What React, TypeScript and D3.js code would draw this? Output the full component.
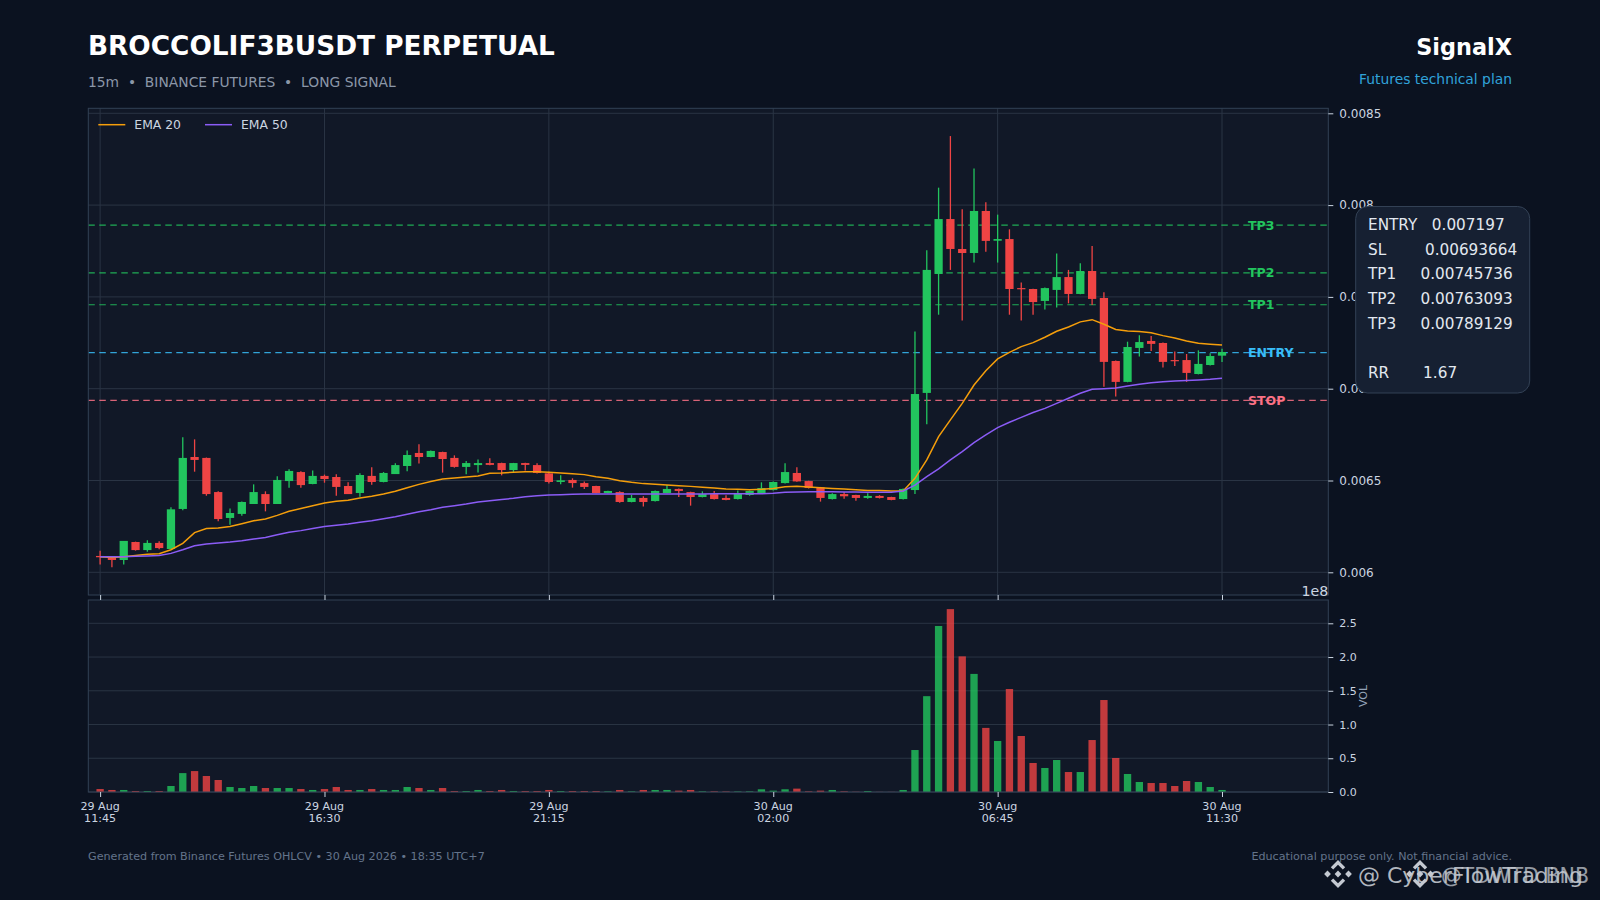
import React, { useEffect, useRef } from "react";
import * as d3 from "d3";

// prices are read in units of 1e-6
const opens = [
  6089, 6083, 6067, 6165, 6121, 6160, 6127, 6345, 6628, 6623, 6437, 6296, 6318, 6372, 6426, 6372,
  6497, 6546, 6481, 6525, 6519, 6470, 6432, 6525, 6492, 6535, 6579, 6650, 6628, 6655, 6623, 6574,
  6584, 6595, 6595, 6557, 6595, 6584, 6539, 6492, 6503, 6486, 6470, 6432, 6437, 6383, 6405, 6388,
  6432, 6454, 6437, 6410, 6426, 6405, 6399, 6421, 6432, 6448, 6486, 6541, 6497, 6463, 6399, 6426,
  6421, 6405, 6416, 6410, 6399, 6448, 6977, 7625, 7924, 7761, 7739, 7968, 7806, 7815, 7548, 7543,
  7478, 7538, 7608, 7516, 7641, 7494, 7151, 7037, 7222, 7260, 7249, 7156, 7156, 7080, 7129, 7180,
];
const highs = [
  6118, 6085, 6171, 6167, 6174, 6169, 6354, 6735, 6724, 6625, 6441, 6348, 6386, 6479, 6441, 6523,
  6561, 6550, 6555, 6532, 6534, 6490, 6539, 6572, 6546, 6594, 6664, 6697, 6663, 6657, 6637, 6606,
  6615, 6621, 6597, 6596, 6597, 6594, 6548, 6528, 6512, 6495, 6471, 6444, 6441, 6421, 6414, 6445,
  6476, 6456, 6439, 6441, 6443, 6419, 6445, 6445, 6490, 6494, 6594, 6572, 6499, 6465, 6430, 6437,
  6423, 6430, 6420, 6412, 6456, 7312, 7754, 8095, 8376, 7977, 8200, 8015, 7948, 7868, 7579, 7545,
  7551, 7736, 7647, 7683, 7777, 7525, 7153, 7256, 7291, 7287, 7251, 7202, 7189, 7209, 7193, 7218,
];
const lows = [
  6043, 6027, 6043, 6118, 6112, 6125, 6127, 6338, 6548, 6417, 6278, 6259, 6308, 6372, 6332, 6372,
  6461, 6461, 6479, 6488, 6417, 6426, 6412, 6477, 6490, 6535, 6550, 6592, 6626, 6543, 6570, 6534,
  6543, 6583, 6528, 6546, 6554, 6538, 6483, 6479, 6461, 6454, 6431, 6431, 6379, 6381, 6358, 6386,
  6431, 6410, 6363, 6408, 6397, 6392, 6397, 6417, 6430, 6446, 6484, 6493, 6457, 6385, 6397, 6401,
  6390, 6401, 6402, 6392, 6397, 6426, 6806, 7403, 7647, 7371, 7687, 7746, 7687, 7403, 7371, 7403,
  7431, 7442, 7465, 7514, 7456, 7011, 6957, 7035, 7176, 7205, 7115, 7124, 7037, 7078, 7127, 7146,
];
const closes = [
  6082, 6067, 6171, 6121, 6160, 6132, 6343, 6623, 6612, 6426, 6290, 6323, 6383, 6437, 6372, 6503,
  6552, 6475, 6525, 6508, 6465, 6426, 6530, 6492, 6541, 6584, 6639, 6628, 6661, 6617, 6574, 6595,
  6595, 6585, 6557, 6595, 6585, 6541, 6492, 6501, 6486, 6465, 6432, 6443, 6383, 6405, 6383, 6443,
  6454, 6443, 6410, 6426, 6399, 6394, 6432, 6443, 6459, 6492, 6546, 6495, 6459, 6405, 6426, 6414,
  6405, 6416, 6405, 6394, 6454, 6971, 7647, 7924, 7761, 7739, 7968, 7805, 7815, 7543, 7543, 7472,
  7548, 7608, 7516, 7641, 7489, 7146, 7037, 7227, 7254, 7244, 7146, 7151, 7086, 7135, 7178, 7200,
];
const ema20 = [
  6085, 6081, 6085, 6091, 6098, 6101, 6123, 6158, 6216, 6238, 6241, 6250, 6265, 6281, 6290, 6310,
  6332, 6347, 6363, 6377, 6387, 6392, 6405, 6414, 6426, 6441, 6461, 6479, 6494, 6508, 6514, 6519,
  6525, 6539, 6541, 6545, 6548, 6548, 6545, 6541, 6537, 6532, 6521, 6512, 6499, 6490, 6483, 6479,
  6476, 6472, 6468, 6463, 6459, 6454, 6452, 6450, 6452, 6456, 6466, 6468, 6465, 6461, 6457, 6454,
  6450, 6446, 6445, 6443, 6443, 6512, 6612, 6739, 6830, 6920, 7020, 7098, 7162, 7198, 7229, 7251,
  7280, 7313, 7336, 7364, 7376, 7351, 7323, 7314, 7311, 7305, 7289, 7276, 7260, 7247, 7242, 7238,
];
const ema50 = [
  6085, 6085, 6085, 6087, 6089, 6092, 6103, 6123, 6145, 6154, 6160, 6165, 6172, 6181, 6190, 6205,
  6218, 6227, 6238, 6249, 6256, 6263, 6272, 6281, 6292, 6303, 6316, 6330, 6341, 6354, 6363, 6372,
  6383, 6390, 6397, 6403, 6412, 6417, 6421, 6423, 6425, 6426, 6426, 6426, 6426, 6426, 6426, 6426,
  6426, 6426, 6426, 6426, 6428, 6428, 6428, 6428, 6428, 6430, 6436, 6437, 6439, 6439, 6439, 6437,
  6437, 6436, 6436, 6436, 6443, 6475, 6521, 6563, 6612, 6657, 6706, 6748, 6788, 6817, 6844, 6870,
  6893, 6920, 6948, 6975, 6997, 7000, 7004, 7015, 7024, 7033, 7038, 7042, 7044, 7047, 7051, 7057,
];
const volumes = [
  0.044, 0.03, 0.03, 0.015, 0.015, 0.015, 0.089, 0.28, 0.31, 0.237, 0.178, 0.074, 0.059, 0.089, 0.059, 0.059,
  0.059, 0.044, 0.03, 0.044, 0.074, 0.03, 0.03, 0.044, 0.03, 0.03, 0.074, 0.059, 0.03, 0.059, 0.015, 0.015,
  0.03, 0.015, 0.03, 0.015, 0.015, 0.015, 0.03, 0.015, 0.015, 0.015, 0.015, 0.01, 0.03, 0.01, 0.03, 0.03,
  0.03, 0.02, 0.03, 0.01, 0.01, 0.008, 0.008, 0.01, 0.04, 0.02, 0.04, 0.05, 0.01, 0.02, 0.03, 0.01,
  0.004, 0.015, 0.002, 0.002, 0.03, 0.622, 1.42, 2.46, 2.71, 2.01, 1.75, 0.95, 0.756, 1.526, 0.83, 0.43,
  0.356, 0.474, 0.296, 0.296, 0.77, 1.363, 0.504, 0.267, 0.148, 0.133, 0.133, 0.089, 0.163, 0.148, 0.074, 0.03,
];
const levelNames = ["TP3", "TP2", "TP1", "ENTRY", "STOP"];
const levelValues = [0.00789129, 0.00763093, 0.00745736, 0.007197, 0.00693664];
const levelColors = ["#22c55e", "#22c55e", "#22c55e", "#38bdf8", "#fb7185"];
const priceTicks = [0.006, 0.0065, 0.007, 0.0075, 0.008, 0.0085];
const volTicks = [0, 0.5, 1, 1.5, 2, 2.5];
const xTickIndex = [0, 19, 38, 57, 76, 95];
const xTickDay = ["29 Aug", "29 Aug", "29 Aug", "30 Aug", "30 Aug", "30 Aug"];
const xTickTime = ["11:45", "16:30", "21:15", "02:00", "06:45", "11:30"];
const planLines = [
  "ENTRY   0.007197",
  "SL        0.00693664",
  "TP1     0.00745736",
  "TP2     0.00763093",
  "TP3     0.00789129",
  "",
  "RR       1.67",
];

const FONT = "'DejaVu Sans', sans-serif";
const BG = "#0b1220";
const PANEL = "#111827";
const GRID = "#2a3444";
const SPINE = "#334155";
const TICK = "#cbd5e1";
const UP = "#22c55e";
const DOWN = "#ef4444";

const L = 88.3;
const R = 1328.3;
const MAIN_TOP = 108.3;
const MAIN_BOTTOM = 595;
const VOL_TOP = 600;
const VOL_BOTTOM = 792;

const App = () => {
  const svgRef = useRef<SVGSVGElement>(null);

  useEffect(() => {
    document.body.style.margin = "0";
    document.body.style.background = BG;

    const svg = d3.select(svgRef.current);
    svg.selectChildren().remove();

    const x = d3.scaleLinear().domain([-1, 104]).range([L, R]);
    const y = d3
      .scaleLinear()
      .domain([0.0085, 0.006])
      .range([113.3, 572.3]);
    const yVol = d3.scaleLinear().domain([0, 2.5]).range([VOL_BOTTOM, 623.3]);
    const p = (v: number) => y(v / 1e6);

    const text = (
      px: number,
      py: number,
      s: string,
      size: number,
      fill: string,
      anchor = "start",
      weight = "normal"
    ) =>
      svg
        .append("text")
        .attr("x", px)
        .attr("y", py)
        .attr("font-family", FONT)
        .attr("font-size", size)
        .attr("font-weight", weight)
        .attr("fill", fill)
        .attr("text-anchor", anchor)
        .style("white-space", "pre")
        .text(s);

    // header
    text(88, 55, "BROCCOLIF3BUSDT PERPETUAL", 26.35, "#ffffff", "start", "bold");
    text(88, 86.5, "15m  •  BINANCE FUTURES  •  LONG SIGNAL", 13.85, "#8b97a8");
    text(1512, 54.5, "SignalX", 22.4, "#ffffff", "end", "bold");
    text(1512, 83.5, "Futures technical plan", 13.85, "#38bdf8", "end").attr("opacity", 0.85);

    // panels
    [
      [MAIN_TOP, MAIN_BOTTOM],
      [VOL_TOP, VOL_BOTTOM],
    ].forEach(([t, b]) => {
      svg
        .append("rect")
        .attr("x", L)
        .attr("y", t)
        .attr("width", R - L)
        .attr("height", b - t)
        .attr("fill", PANEL);
    });

    // grid
    const grid = svg.append("g").attr("stroke", GRID).attr("stroke-width", 1);
    grid
      .selectAll("line.h")
      .data(priceTicks)
      .join("line")
      .attr("x1", L)
      .attr("x2", R)
      .attr("y1", (d) => y(d))
      .attr("y2", (d) => y(d));
    grid
      .selectAll("line.v")
      .data(xTickIndex)
      .join("line")
      .attr("x1", (d) => x(d))
      .attr("x2", (d) => x(d))
      .attr("y1", MAIN_TOP)
      .attr("y2", MAIN_BOTTOM);
    const volGrid = svg.append("g").attr("stroke", GRID).attr("stroke-width", 1);
    volGrid
      .selectAll("line")
      .data(volTicks)
      .join("line")
      .attr("x1", L)
      .attr("x2", R)
      .attr("y1", (d) => yVol(d))
      .attr("y2", (d) => yVol(d));

    // level lines
    levelValues.forEach((v, i) => {
      svg
        .append("line")
        .attr("x1", L)
        .attr("x2", R)
        .attr("y1", y(v))
        .attr("y2", y(v))
        .attr("stroke", levelColors[i])
        .attr("stroke-width", 1.2)
        .attr("stroke-dasharray", "6.5,4.5")
        .attr("opacity", 0.85);
      text(1248, y(v) + 4.5, levelNames[i], 12.5, levelColors[i], "start", "bold");
    });

    // candles
    const idx = d3.range(opens.length);
    const bodyW = x(0.7) - x(0);
    const candles = svg.append("g");
    candles
      .selectAll("line")
      .data(idx)
      .join("line")
      .attr("x1", (i) => x(i))
      .attr("x2", (i) => x(i))
      .attr("y1", (i) => p(highs[i]))
      .attr("y2", (i) => p(lows[i]))
      .attr("stroke", (i) => (closes[i] >= opens[i] ? UP : DOWN))
      .attr("stroke-width", 1.3);
    candles
      .selectAll("rect")
      .data(idx)
      .join("rect")
      .attr("x", (i) => x(i) - bodyW / 2)
      .attr("width", bodyW)
      .attr("y", (i) => p(Math.max(opens[i], closes[i])))
      .attr("height", (i) => Math.max(1.2, Math.abs(p(opens[i]) - p(closes[i]))))
      .attr("fill", (i) => (closes[i] >= opens[i] ? UP : DOWN));

    // ema lines
    const line = d3
      .line<number>()
      .x((_, i) => x(i))
      .y((d) => p(d));
    [
      { data: ema20, color: "#f59e0b" },
      { data: ema50, color: "#8b5cf6" },
    ].forEach((s) => {
      svg
        .append("path")
        .attr("d", line(s.data))
        .attr("fill", "none")
        .attr("stroke", s.color)
        .attr("stroke-width", 1.5);
    });

    // legend
    [
      { label: "EMA 20", color: "#f59e0b", x0: 98.3 },
      { label: "EMA 50", color: "#8b5cf6", x0: 205 },
    ].forEach((s) => {
      svg
        .append("line")
        .attr("x1", s.x0)
        .attr("x2", s.x0 + 27)
        .attr("y1", 124.7)
        .attr("y2", 124.7)
        .attr("stroke", s.color)
        .attr("stroke-width", 1.5);
      text(s.x0 + 36, 129.3, s.label, 12.4, TICK);
    });

    // volume bars
    const volW = x(0.62) - x(0);
    svg
      .append("g")
      .selectAll("rect")
      .data(idx)
      .join("rect")
      .attr("x", (i) => x(i) - volW / 2)
      .attr("width", volW)
      .attr("y", (i) => yVol(volumes[i]))
      .attr("height", (i) => VOL_BOTTOM - yVol(volumes[i]))
      .attr("fill", (i) => (closes[i] >= opens[i] ? UP : DOWN))
      .attr("opacity", 0.8);

    // spines
    [
      [MAIN_TOP, MAIN_BOTTOM],
      [VOL_TOP, VOL_BOTTOM],
    ].forEach(([t, b]) => {
      svg
        .append("rect")
        .attr("x", L)
        .attr("y", t)
        .attr("width", R - L)
        .attr("height", b - t)
        .attr("fill", "none")
        .attr("stroke", SPINE)
        .attr("stroke-width", 1);
    });

    // axes
    const rightMain = svg
      .append("g")
      .attr("transform", `translate(${R},0)`)
      .call(d3.axisRight(y).tickValues(priceTicks).tickFormat(d3.format(".4~f") as any).tickSize(5).tickPadding(6));
    const rightVol = svg
      .append("g")
      .attr("transform", `translate(${R},0)`)
      .call(d3.axisRight(yVol).tickValues(volTicks).tickFormat(d3.format(".1f") as any).tickSize(5).tickPadding(6));
    const bottomMain = svg
      .append("g")
      .attr("transform", `translate(0,${MAIN_BOTTOM})`)
      .call(d3.axisBottom(x).tickValues(xTickIndex).tickFormat(() => "").tickSize(5));
    const bottomVol = svg
      .append("g")
      .attr("transform", `translate(0,${VOL_BOTTOM})`)
      .call(d3.axisBottom(x).tickValues(xTickIndex).tickFormat(() => "").tickSize(5));
    [rightMain, rightVol, bottomMain, bottomVol].forEach((g) => {
      g.select(".domain").remove();
      g.selectAll("line").attr("stroke", TICK);
      g.selectAll("text").attr("fill", TICK).attr("font-family", FONT);
    });
    rightMain.selectAll("text").attr("font-size", 12);
    rightVol.selectAll("text").attr("font-size", 11);

    xTickIndex.forEach((d, i) => {
      text(x(d), 810, xTickDay[i], 11.1, TICK, "middle");
      text(x(d), 821.5, xTickTime[i], 11.1, TICK, "middle");
    });

    text(R, 596, "1e8", 14.2, TICK, "end");
    text(0, 0, "VOL", 11, "#94a3b8", "middle").attr("transform", "translate(1367,696) rotate(-90)");

    // plan box
    svg
      .append("rect")
      .attr("x", 1355.7)
      .attr("y", 206.5)
      .attr("width", 174)
      .attr("height", 186.5)
      .attr("rx", 12)
      .attr("fill", "#162032")
      .attr("stroke", SPINE)
      .attr("stroke-width", 1);
    planLines.forEach((s, i) => {
      text(1368, 230 + i * 24.7, s, 15.25, "#e2e8f0");
    });

    // footer
    text(88, 860, "Generated from Binance Futures OHLCV • 30 Aug 2026 • 18:35 UTC+7", 11.15, "#64748b");
    text(1512, 860, "Educational purpose only. Not financial advice.", 11.15, "#64748b", "end");

    // watermark
    const mark = (cx: number, cy: number) => {
      const g = svg.append("g").attr("transform", `translate(${cx},${cy})`).attr("fill", "#c4c9d1");
      const d = (dx: number, dy: number, r: number) =>
        g.append("path").attr("d", `M${dx},${dy - r}L${dx + r},${dy}L${dx},${dy + r}L${dx - r},${dy}Z`);
      d(0, 0, 3.4);
      d(-10.5, 0, 3.4);
      d(10.5, 0, 3.4);
      g.append("path").attr("d", "M0,-14L7.2,-6.8L4.8,-4.4L0,-9.2L-4.8,-4.4L-7.2,-6.8Z");
      g.append("path").attr("d", "M0,14L7.2,6.8L4.8,4.4L0,9.2L-4.8,4.4L-7.2,6.8Z");
    };
    mark(1338, 874);
    mark(1420, 874);
    text(1358, 882.5, "@ CyberFlowTrading", 22, "#c4c9d1").attr("opacity", 0.9);
    text(1441, 882.5, "@TDWTD BNB", 20.6, "#c4c9d1").attr("opacity", 0.75);
  }, []);

  return <svg ref={svgRef} width={1600} height={900} style={{ display: "block" }} />;
};

export default App;
